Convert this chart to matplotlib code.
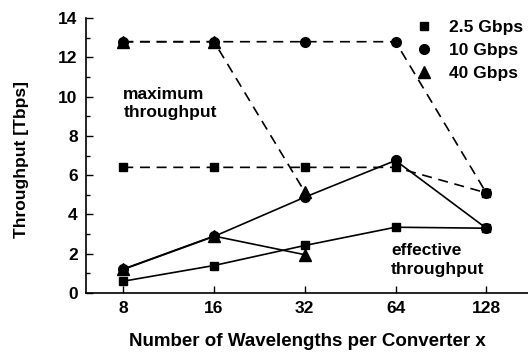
import matplotlib.pyplot as plt
from matplotlib.ticker import MultipleLocator

plt.rcParams["font.family"] = ["Liberation Sans", "DejaVu Sans"]
plt.rcParams["font.weight"] = "bold"

# ====== data ======
wavelengths = ["8", "16", "32", "64", "128"]

max_25 = [6.4, 6.4, 6.4, 6.4, 5.1]
max_10 = [12.8, 12.8, 12.8, 12.8, 5.1]
max_40 = [12.8, 12.8, 5.15]

eff_25 = [0.6, 1.4, 2.42, 3.35, 3.3]
eff_10 = [1.2, 2.88, 4.88, 6.75, 3.3]
eff_40 = [1.22, 2.9, 1.95]

xi = list(range(len(wavelengths)))
fs = 12.5

fig = plt.figure(figsize=(5.28, 3.56), dpi=100)
ax = fig.add_axes([0.163, 0.177, 0.837, 0.772])

dash = (0, (6, 4))
# maximum throughput (dashed)
ax.plot(xi, max_25, color="black", lw=1.2, ls=dash, marker="s", ms=6)
ax.plot(xi, max_10, color="black", lw=1.2, ls=dash, marker="o", ms=7)
ax.plot(xi[:3], max_40, color="black", lw=1.2, ls=dash, marker="^", ms=8.5,
        zorder=3)

# effective throughput (solid)
ax.plot(xi, eff_25, color="black", lw=1.2, marker="s", ms=6)
ax.plot(xi, eff_10, color="black", lw=1.2, marker="o", ms=7)
ax.plot(xi[:3], eff_40, color="black", lw=1.2, marker="^", ms=8.5,
        zorder=3)

# legend (markers only)
h1, = ax.plot([], [], "s", color="black", ms=6, label="2.5 Gbps")
h2, = ax.plot([], [], "o", color="black", ms=7, label="10 Gbps")
h3, = ax.plot([], [], "^", color="black", ms=8.5, label="40 Gbps")
ax.legend(handles=[h1, h2, h3], loc="upper right", frameon=False,
          fontsize=fs, handlelength=1.0, handletextpad=0.95,
          labelspacing=0.45, borderaxespad=0.0,
          bbox_to_anchor=(1.005, 1.02))

ax.text(0.0, 9.65, "maximum\nthroughput", fontsize=fs, fontweight="bold",
        va="center", ha="left", linespacing=1.3)
ax.text(2.95, 1.68, "effective\nthroughput", fontsize=fs, fontweight="bold",
        va="center", ha="left", linespacing=1.3)

ax.set_xlim(-0.41, 4.46)
ax.set_ylim(0, 14)
ax.set_xticks(xi)
ax.set_xticklabels(wavelengths)
ax.yaxis.set_major_locator(MultipleLocator(2))
ax.yaxis.set_minor_locator(MultipleLocator(1))

ax.spines["top"].set_visible(False)
ax.spines["right"].set_visible(False)
ax.spines["left"].set_linewidth(1.2)
ax.spines["bottom"].set_linewidth(1.2)
ax.tick_params(axis="both", which="major", direction="in", length=5,
               width=1.0, labelsize=fs, pad=6)
ax.tick_params(axis="y", which="minor", direction="in", length=3, width=1.0)

ax.set_xlabel("Number of Wavelengths per Converter x", fontsize=13.5,
              fontweight="bold", labelpad=12)
ax.set_ylabel("Throughput [Tbps]", fontsize=fs, fontweight="bold")
ax.yaxis.set_label_coords(-0.13, 0.484)

plt.savefig("out.png", dpi=100)
